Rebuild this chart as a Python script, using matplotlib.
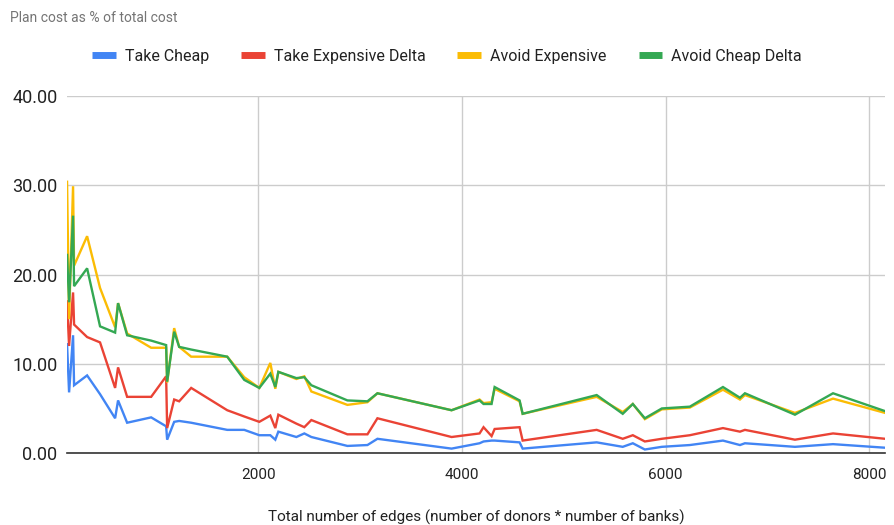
import matplotlib
matplotlib.use("Agg")
import matplotlib.pyplot as plt
from matplotlib.lines import Line2D

plt.rcParams['font.family'] = ['Roboto', 'DejaVu Sans']

# total edges (donors * banks)
edges = [122, 142, 181, 191, 319, 446, 594, 623, 712, 948,
         1095, 1105, 1174, 1223, 1341, 1695, 1862, 2010, 2118, 2167,
         2197, 2374, 2452, 2521, 2875, 3072, 3170, 3898, 4173, 4212,
         4291, 4321, 4566, 4596, 5323, 5579, 5678, 5796, 5963, 6238,
         6563, 6730, 6779, 7270, 7644, 8155]

# plan cost as % of total cost
take_cheap = [12.2, 6.8, 13.2, 7.6, 8.7, 6.6, 3.9, 5.9, 3.4, 4.0,
              3.0, 1.5, 3.5, 3.6, 3.4, 2.6, 2.6, 2.0, 2.0, 1.5,
              2.4, 1.8, 2.2, 1.8, 0.8, 0.9, 1.6, 0.5, 1.1, 1.3,
              1.4, 1.4, 1.2, 0.5, 1.2, 0.7, 1.1, 0.4, 0.7, 0.9,
              1.4, 0.9, 1.1, 0.7, 1.0, 0.6]
take_expensive_delta = [17.0, 12.0, 18.0, 14.4, 13.0, 12.4, 7.3, 9.6, 6.3, 6.3,
                        8.6, 2.8, 6.0, 5.8, 7.3, 4.8, 4.1, 3.5, 4.2, 2.8,
                        4.3, 3.3, 2.9, 3.7, 2.1, 2.1, 3.9, 1.8, 2.2, 2.9,
                        1.9, 2.7, 2.9, 1.4, 2.6, 1.6, 2.0, 1.3, 1.6, 2.0,
                        2.8, 2.4, 2.6, 1.5, 2.2, 1.6]
avoid_expensive = [30.4, 15.0, 29.9, 21.0, 24.3, 18.5, 14.1, 16.8, 13.4, 11.8,
                   11.8, 7.9, 14.0, 11.9, 10.8, 10.8, 8.5, 7.3, 10.1, 7.2,
                   9.1, 8.3, 8.6, 6.9, 5.4, 5.7, 6.7, 4.8, 6.0, 5.6,
                   5.7, 7.2, 5.8, 4.4, 6.3, 4.6, 5.5, 3.8, 4.9, 5.1,
                   7.1, 6.0, 6.5, 4.5, 6.1, 4.5]
avoid_cheap_delta = [22.2, 16.9, 26.6, 18.7, 20.7, 14.2, 13.5, 16.8, 13.2, 12.6,
                     12.1, 8.0, 13.6, 11.9, 11.6, 10.8, 8.2, 7.3, 8.9, 7.4,
                     9.1, 8.4, 8.5, 7.6, 5.9, 5.8, 6.7, 4.8, 5.9, 5.5,
                     5.5, 7.4, 5.9, 4.4, 6.5, 4.4, 5.5, 3.9, 5.0, 5.2,
                     7.4, 6.2, 6.7, 4.3, 6.7, 4.7]

series = [
    ("Take Cheap", take_cheap, "#4285F4"),
    ("Take Expensive Delta", take_expensive_delta, "#EA4335"),
    ("Avoid Expensive", avoid_expensive, "#FBBC04"),
    ("Avoid Cheap Delta", avoid_cheap_delta, "#34A853"),
]

fig = plt.figure(figsize=(8.94, 5.25), dpi=100)
ax = fig.add_axes([0.075, 0.137, 0.915, 0.68])

for name, vals, col in series:
    ax.plot(edges, vals, color=col, lw=1.7, solid_joinstyle='miter', label=name)

ax.set_xlim(edges[0], edges[-1])
ax.set_ylim(0, 40)
ax.set_xticks([2000, 4000, 6000, 8000])
ax.set_yticks([0, 10, 20, 30, 40])
ax.set_yticklabels([f"{v:.2f}" for v in [0, 10, 20, 30, 40]])
ax.grid(True, color="#cccccc", lw=1)
ax.set_axisbelow(True)
for s in ["top", "right", "left"]:
    ax.spines[s].set_visible(False)
ax.spines["bottom"].set_color("#333333")
ax.spines["bottom"].set_linewidth(1.2)
ax.spines["bottom"].set_zorder(5)
ax.tick_params(axis="both", length=0, colors="#222222")
ax.tick_params(axis="y", labelsize=13, pad=7)
ax.tick_params(axis="x", labelsize=11, pad=11)
ax.set_xlabel("Total number of edges (number of donors * number of banks)",
              fontsize=11, color="#222222", labelpad=20)

fig.text(0.011, 0.966, "Plan cost as % of total cost", fontsize=10,
         color="#757575", ha="left", va="center")

handles = [Line2D([0], [0], color=c, lw=5, solid_capstyle="butt") for _, _, c in series]
fig.legend(handles, [n for n, _, _ in series], loc="center", bbox_to_anchor=(0.5, 0.893),
           ncol=4, frameon=False, fontsize=11.5, handlelength=1.5, handletextpad=0.55,
           columnspacing=2.0, labelcolor="#222222")

fig.savefig("out.png", dpi=100)
